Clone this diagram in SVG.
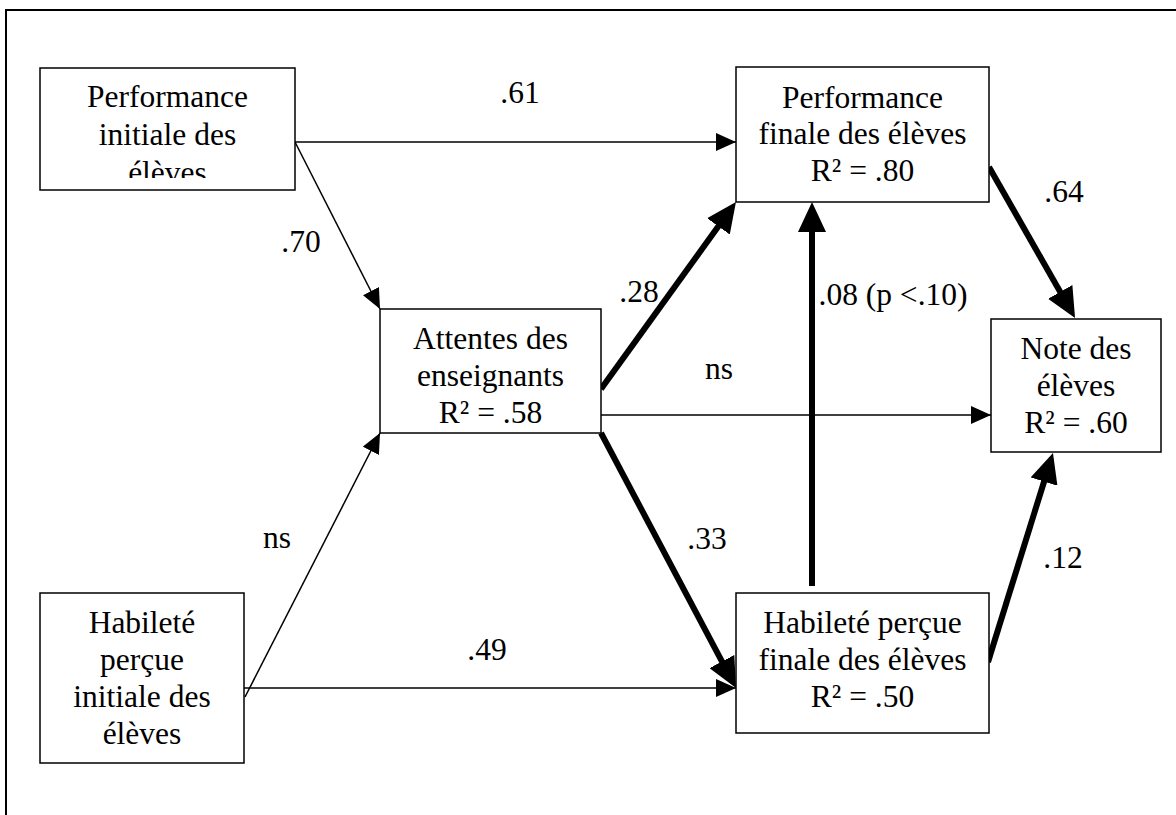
<svg xmlns="http://www.w3.org/2000/svg" width="1176" height="815" viewBox="0 0 1176 815">
  <style>
    .frame { fill: none; stroke: #000; stroke-width: 2; }
    .box { fill: #fff; stroke: #000; stroke-width: 1.5; }
    .lbl { font-family: "Liberation Serif", "Times New Roman", serif; font-size: 31.5px; fill: #000; text-anchor: middle; }
    .thin { fill: none; stroke: #000; stroke-width: 1.5; }
    .thick { fill: none; stroke: #000; stroke-width: 6; }
  </style>
  <defs>
    <marker id="headThin" markerUnits="userSpaceOnUse" markerWidth="20" markerHeight="18" refX="20" refY="9" orient="auto">
      <path d="M0,0 L20,9 L0,18 z" fill="#000"/>
    </marker>
    <marker id="headThick" markerUnits="userSpaceOnUse" markerWidth="30" markerHeight="28" refX="20" refY="14" orient="auto">
      <path d="M0,0 L30,14 L0,28 z" fill="#000"/>
    </marker>
    <clipPath id="clipPerfInit">
      <rect x="40" y="68" width="255" height="110"/>
    </clipPath>
  </defs>

  <rect width="1176" height="815" fill="#fff"/>
  <path class="frame" d="M6,815 V10 H1176"/>

  <!-- connectors -->
  <g id="connectors">
    <line class="thin" x1="295" y1="142" x2="736" y2="142" marker-end="url(#headThin)"/>
    <line class="thin" x1="295" y1="142" x2="380" y2="309" marker-end="url(#headThin)"/>
    <line class="thin" x1="245" y1="697" x2="380" y2="433" marker-end="url(#headThin)"/>
    <line class="thin" x1="244" y1="688" x2="736" y2="688" marker-end="url(#headThin)"/>
    <line class="thin" x1="601" y1="415" x2="991" y2="415" marker-end="url(#headThin)"/>
    <line class="thick" x1="601" y1="389" x2="730.1" y2="210.1" marker-end="url(#headThick)"/>
    <line class="thick" x1="601" y1="433" x2="731.3" y2="679.2" marker-end="url(#headThick)"/>
    <line class="thick" x1="812" y1="586" x2="812" y2="212" marker-end="url(#headThick)"/>
    <line class="thick" x1="989" y1="167" x2="1070.1" y2="309.3" marker-end="url(#headThick)"/>
    <line class="thick" x1="988" y1="662" x2="1050" y2="462.5" marker-end="url(#headThick)"/>

    <text class="lbl" x="520" y="103">.61</text>
    <text class="lbl" x="301" y="252">.70</text>
    <text class="lbl" x="639" y="302">.28</text>
    <text class="lbl" x="719" y="379">ns</text>
    <text class="lbl" x="893" y="305">.08 (p &lt;.10)</text>
    <text class="lbl" x="1064" y="202">.64</text>
    <text class="lbl" x="277" y="548">ns</text>
    <text class="lbl" x="707" y="549">.33</text>
    <text class="lbl" x="1063" y="568">.12</text>
    <text class="lbl" x="487" y="660">.49</text>
  </g>

  <g id="perf-initiale">
    <rect class="box" x="40" y="68" width="255" height="122"/>
    <g clip-path="url(#clipPerfInit)">
      <text class="lbl" x="167.5" y="107">Performance</text>
      <text class="lbl" x="167.5" y="145">initiale des</text>
      <text class="lbl" x="167.5" y="183">élèves</text>
    </g>
  </g>

  <g id="perf-finale">
    <rect class="box" x="736" y="67" width="253" height="135"/>
    <text class="lbl" x="862.5" y="108">Performance</text>
    <text class="lbl" x="862.5" y="144">finale des élèves</text>
    <text class="lbl" x="862.5" y="181">R² = .80</text>
  </g>

  <g id="attentes">
    <rect class="box" x="380" y="309" width="221" height="124"/>
    <text class="lbl" x="490.5" y="349">Attentes des</text>
    <text class="lbl" x="490.5" y="386">enseignants</text>
    <text class="lbl" x="490.5" y="423">R² = .58</text>
  </g>

  <g id="note">
    <rect class="box" x="991" y="319" width="170" height="133"/>
    <text class="lbl" x="1076" y="359">Note des</text>
    <text class="lbl" x="1076" y="396">élèves</text>
    <text class="lbl" x="1076" y="433">R² = .60</text>
  </g>

  <g id="habilete-initiale">
    <rect class="box" x="40" y="593" width="204" height="170"/>
    <text class="lbl" x="142" y="633">Habileté</text>
    <text class="lbl" x="142" y="670">perçue</text>
    <text class="lbl" x="142" y="707">initiale des</text>
    <text class="lbl" x="142" y="744">élèves</text>
  </g>

  <g id="habilete-finale">
    <rect class="box" x="736" y="593" width="253" height="140"/>
    <text class="lbl" x="862.5" y="633">Habileté perçue</text>
    <text class="lbl" x="862.5" y="670">finale des élèves</text>
    <text class="lbl" x="862.5" y="707">R² = .50</text>
  </g>
</svg>
